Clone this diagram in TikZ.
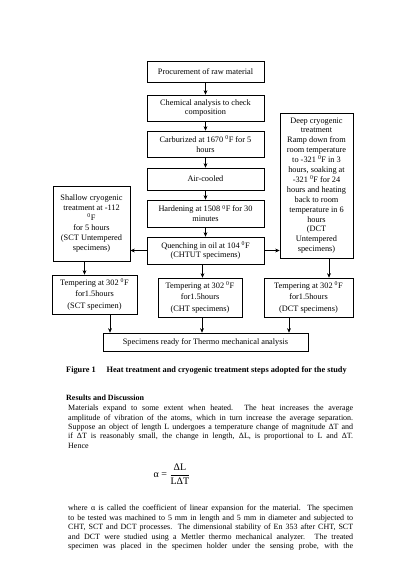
\documentclass[tikz,border=0pt]{standalone}
\usepackage{fontspec}
\setmainfont{Liberation Serif}
\usetikzlibrary{arrows.meta,calc}
\newcommand{\dg}{\textsuperscript{0}}
\newcommand{\jl}[1]{\makebox[285pt][s]{#1}}
\begin{document}
\begin{tikzpicture}[x=1pt,y=-1pt,
  box/.style={draw, line width=0.6pt, inner sep=1pt, align=center, font=\fontsize{8.3}{9.9}\selectfont},
  tbox/.style={box, font=\fontsize{8.3}{11.2}\selectfont},
  arr/.style={-{Stealth[length=4.5pt,width=3.8pt]}, line width=0.6pt},
  body/.style={anchor=north west, inner sep=0pt, align=left, font=\fontsize{8}{9.4}\selectfont},
  head/.style={anchor=west, inner sep=0pt, font=\fontsize{8}{9.3}\selectfont\bfseries}]
\useasboundingbox (0,0) rectangle (413,584);
% main column
\node[box, minimum width=117pt, minimum height=21pt] (proc) at (205.5,71.5) {Procurement of raw material};
\node[box, minimum width=117pt, minimum height=26pt] (chem) at (205.5,108) {Chemical analysis to check\\composition};
\node[box, minimum width=117pt, minimum height=26pt] (carb) at (205.5,144) {Carburized at 1670 \dg F for 5\\hours};
\node[box, minimum width=117pt, minimum height=22pt] (air) at (205.5,179) {Air-cooled};
\node[box, minimum width=117pt, minimum height=27pt] (hard) at (205.5,213.5) {Hardening at 1508 \dg F for 30\\minutes};
\node[box, minimum width=117pt, minimum height=27pt] (quen) at (205.5,250.5) {Quenching in oil at 104 \dg F\\(CHTUT specimens)};
% side branches
\node[box, minimum width=73pt, minimum height=145pt] (deep) at (316.5,185.5) {Deep cryogenic\\treatment\\Ramp down from\\room temperature\\to -321 \dg F in 3\\hours, soaking at\\-321 \dg F for 24\\hours and heating\\back to room\\temperature in 6\\hours\\(DCT\\Untempered\\specimens)};
\node[box, minimum width=77pt, minimum height=75pt] (shal) at (91.5,223.5) {Shallow cryogenic\\treatment at -112\\\dg F\\for 5 hours\\(SCT Untempered\\specimens)};
% tempering
\node[tbox, minimum width=85pt, minimum height=39pt] (tsct) at (94.5,294.5) {Tempering at 302 \dg F\\for1.5hours\\(SCT specimen)};
\node[tbox, minimum width=84pt, minimum height=39pt] (tcht) at (200,297.5) {Tempering at 302 \dg F\\for1.5hours\\(CHT specimens)};
\node[tbox, minimum width=89pt, minimum height=39pt] (tdct) at (308.5,297.5) {Tempering at 302 \dg F\\for1.5hours\\(DCT specimens)};
\node[box, minimum width=205pt, minimum height=18pt] (spec) at (205.5,342) {Specimens ready for Thermo mechanical analysis};
% arrows
\draw[arr] (proc) -- (chem);
\draw[arr] (chem) -- (carb);
\draw[arr] (carb) -- (air);
\draw[arr] (air) -- (hard);
\draw[arr] (hard) -- (quen);
\draw[arr] (quen.west) -- (quen.west -| shal.east);
\draw[arr] (quen.east) -- (quen.east -| deep.west);
\draw[arr] ([xshift=-3pt]quen.south) -- ([xshift=-3pt]quen.south |- tcht.north);
\draw[arr] ([xshift=-7pt]shal.south) -- ([xshift=-7pt]shal.south |- tsct.north);
\draw[arr] ([xshift=12.5pt]deep.south) -- ([xshift=12.5pt]deep.south |- tdct.north);
\draw[arr] ([xshift=15.5pt]tsct.south) -- ([xshift=15.5pt]tsct.south |- spec.north);
\draw[arr] ([xshift=2pt]tcht.south) -- ([xshift=2pt]tcht.south |- spec.north);
\draw[arr] ([xshift=-19.5pt]tdct.south) -- ([xshift=-19.5pt]tdct.south |- spec.north);
% text below
\node[head, font=\fontsize{8.3}{9.6}\selectfont\bfseries] (cap) at (66,370) {Figure 1\hspace{1.3em}Heat treatment and cryogenic treatment steps adopted for the study};
\node[head] (res) at (66,398) {Results and Discussion};
\node[body] (p1) at (68,405) {\jl{Materials expand to some extent when heated. The heat increases the average}\\
\jl{amplitude of vibration of the atoms, which in turn increase the average separation.}\\
\jl{Suppose an object of length L undergoes a temperature change of magnitude ΔT and}\\
\jl{if ΔT is reasonably small, the change in length, ΔL, is proportional to L and ΔT.}\\
Hence};
\node[inner sep=0pt, font=\fontsize{10}{12}\selectfont] (eq) at (172,474) {α = $\displaystyle\frac{\mbox{ΔL}}{\mbox{LΔT}}$};
\node[body] (p2) at (68,505) {\jl{where α is called the coefficient of linear expansion for the material. The specimen}\\
\jl{to be tested was machined to 5 mm in length and 5 mm in diameter and subjected to}\\
\jl{CHT, SCT and DCT processes. The dimensional stability of En 353 after CHT, SCT}\\
\jl{and DCT were studied using a Mettler thermo mechanical analyzer. The treated}\\
\jl{specimen was placed in the specimen holder under the sensing probe, with the}};
\end{tikzpicture}
\end{document}
